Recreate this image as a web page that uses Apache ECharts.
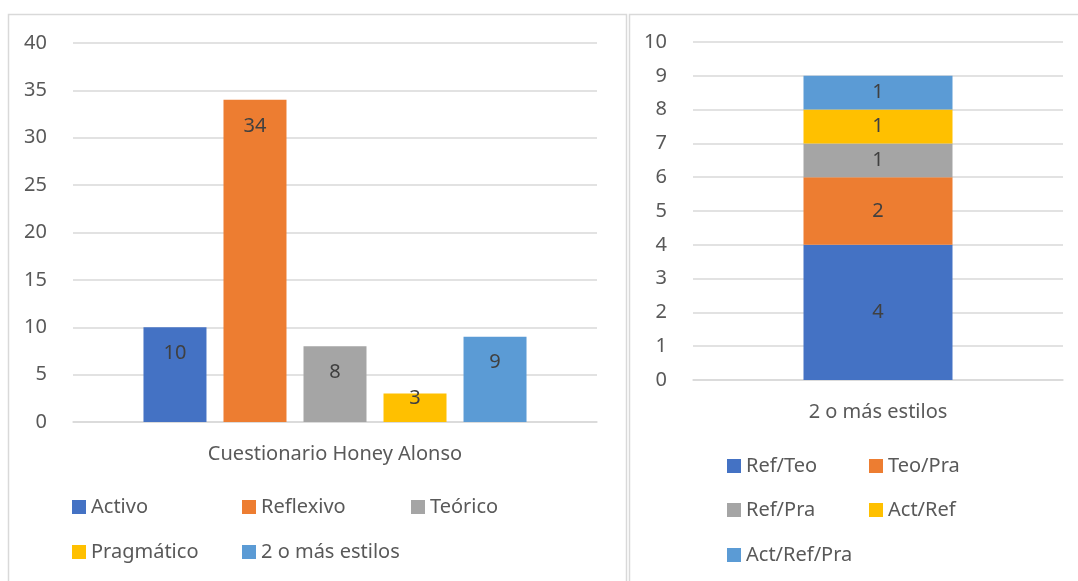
<!DOCTYPE html>
<html>
<head>
<meta charset="utf-8">
<script src="https://cdn.jsdelivr.net/npm/echarts@6/dist/echarts.min.js"></script>
<style>
    html, body { margin: 0; padding: 0; background: #fff; }
    #chart { width: 1078px; height: 581px; }
</style>
</head>
<body>
<div id="chart"></div>
<script>
// left chart: Cuestionario Honey Alonso
var leftCategory = ['Cuestionario Honey Alonso'];
var leftNames    = ['Activo', 'Reflexivo', 'Teórico', 'Pragmático', '2 o más estilos'];
var leftValues   = [10, 34, 8, 3, 9];

// right chart: 2 o más estilos (stacked)
var rightCategory = ['2 o más estilos'];
var rightNames    = ['Ref/Teo', 'Teo/Pra', 'Ref/Pra', 'Act/Ref', 'Act/Ref/Pra'];
var rightValues   = [4, 2, 1, 1, 1];

var colors    = ['#4472C4', '#ED7D31', '#A5A5A5', '#FFC000', '#5B9BD5'];
var fontName  = 'Noto Sans';
var fontSize  = 20;
var textColor = '#595959';
var lineColor = '#D9D9D9';

var series = [];
var i;
for (i = 0; i < leftNames.length; i++)
{
    series.push({
        name: leftNames[i],
        type: 'bar',
        xAxisIndex: 0,
        yAxisIndex: 0,
        barWidth: 63,
        barGap: '27%',
        color: colors[i],
        label: {
            show: true,
            position: 'insideTop',
            distance: leftValues[i] < 5 ? -5 : 16,
            color: '#404040',
            fontFamily: fontName,
            fontSize: fontSize
        },
        data: [leftValues[i]]
    });
}
for (i = 0; i < rightNames.length; i++)
{
    series.push({
        name: rightNames[i],
        type: 'bar',
        stack: 'estilos',
        xAxisIndex: 1,
        yAxisIndex: 1,
        barWidth: 149,
        color: colors[i],
        label: {
            show: true,
            position: 'inside',
            color: '#404040',
            fontFamily: fontName,
            fontSize: fontSize
        },
        data: [rightValues[i]]
    });
}

// one legend per item so the columns line up like the original
function makeLegend(name, left, top)
{
    return {
        data: [name],
        left: left,
        top: top,
        padding: 0,
        itemWidth: 14,
        itemHeight: 14,
        icon: 'rect',
        selectedMode: false,
        textStyle: { color: textColor, fontFamily: fontName, fontSize: fontSize }
    };
}

var legendCols = [72, 242, 411];
var legendRows = [497, 542];
var legends = [];
for (i = 0; i < leftNames.length; i++)
{
    legends.push(makeLegend(leftNames[i], legendCols[i % 3], legendRows[Math.floor(i / 3)]));
}
var rightCols = [727, 869];
var rightRows = [456, 500, 545];
for (i = 0; i < rightNames.length; i++)
{
    legends.push(makeLegend(rightNames[i], rightCols[i % 2], rightRows[Math.floor(i / 2)]));
}

function yAxis(gridIndex, max, interval)
{
    return {
        type: 'value',
        gridIndex: gridIndex,
        min: 0,
        max: max,
        interval: interval,
        axisLine: { show: false },
        axisTick: { show: false },
        axisLabel: { color: textColor, fontFamily: fontName, fontSize: fontSize, margin: 26 },
        splitLine: { lineStyle: { color: lineColor, width: 1.5 } }
    };
}

function xAxis(gridIndex, data)
{
    return {
        type: 'category',
        gridIndex: gridIndex,
        data: data,
        axisLine: { show: true, lineStyle: { color: lineColor, width: 1.5 } },
        axisTick: { show: false },
        axisLabel: { color: textColor, fontFamily: fontName, fontSize: fontSize, margin: 22 }
    };
}

var chart = echarts.init(document.getElementById('chart'));
var option = {
    animation: false,
    backgroundColor: '#fff',
    textStyle: { fontFamily: fontName },
    graphic: [
        { type: 'rect', shape: { x: 8.5, y: 14.5, width: 618, height: 580 }, style: { fill: 'none', stroke: lineColor, lineWidth: 1.5 } },
        { type: 'rect', shape: { x: 629.5, y: 14.5, width: 460, height: 580 }, style: { fill: 'none', stroke: lineColor, lineWidth: 1.5 } }
    ],
    grid: [
        { left: 73, right: 481, top: 43, bottom: 159 },
        { left: 693, right: 15, top: 42, bottom: 201 }
    ],
    xAxis: [xAxis(0, leftCategory), xAxis(1, rightCategory)],
    yAxis: [yAxis(0, 40, 5), yAxis(1, 10, 1)],
    legend: legends,
    series: series
};

option && chart.setOption(option);
</script>
</body>
</html>
